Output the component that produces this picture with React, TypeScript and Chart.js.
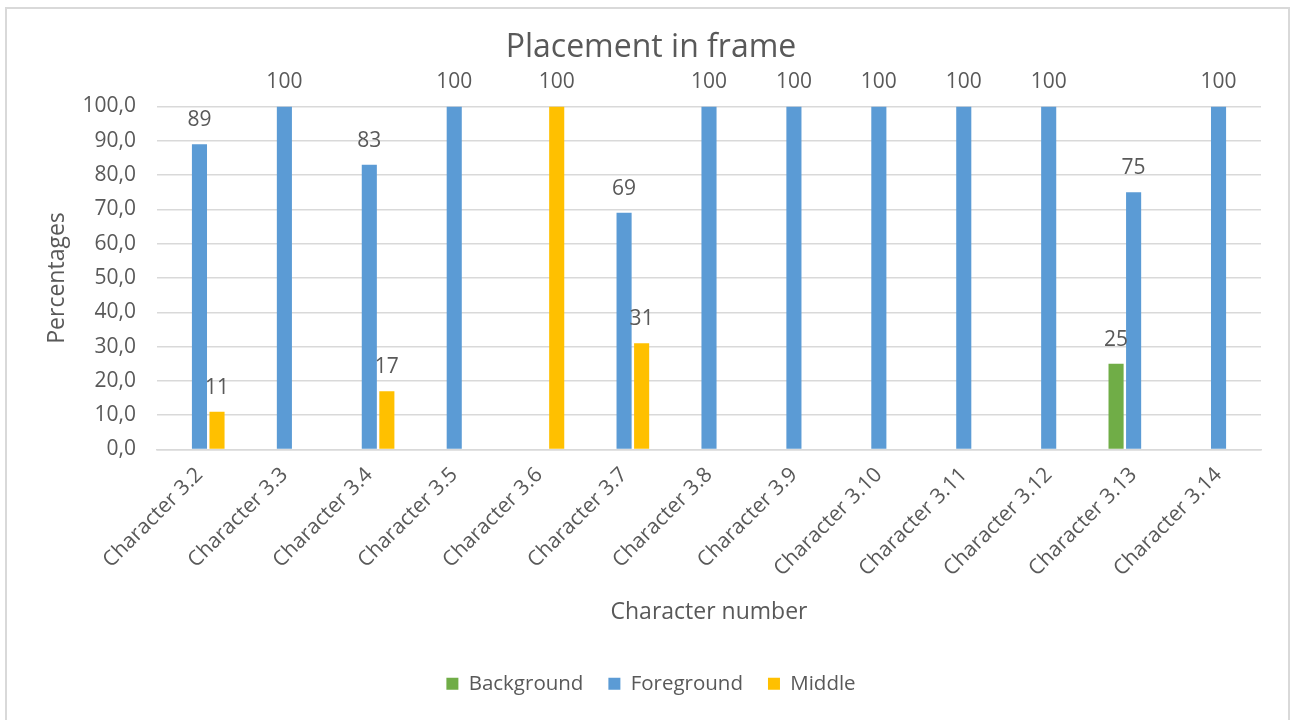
import React, { useEffect, useRef } from "react";
import { Chart, registerables } from "chart.js";

Chart.register(...registerables);

const categories = [
  "Character 3.2", "Character 3.3", "Character 3.4", "Character 3.5", "Character 3.6",
  "Character 3.7", "Character 3.8", "Character 3.9", "Character 3.10", "Character 3.11",
  "Character 3.12", "Character 3.13", "Character 3.14",
];
const background = [0, 0, 0, 0, 0, 0, 0, 0, 0, 0, 0, 25, 0];
const foreground = [89, 100, 83, 100, 0, 69, 100, 100, 100, 100, 100, 75, 100];
const middle = [11, 0, 17, 0, 100, 31, 0, 0, 0, 0, 0, 0, 0];

const TEXT = "#595959";
const FONT = "'Open Sans', sans-serif";

const dataLabels = {
  id: "dataLabels",
  afterDatasetsDraw(chart: any) {
    const ctx = chart.ctx;
    ctx.save();
    ctx.font = `21px ${FONT}`;
    ctx.fillStyle = TEXT;
    ctx.textAlign = "center";
    ctx.textBaseline = "middle";
    chart.data.datasets.forEach((ds: any, di: number) => {
      const meta = chart.getDatasetMeta(di);
      meta.data.forEach((el: any, i: number) => {
        const v = ds.data[i];
        if (!v) return;
        ctx.fillText(String(v), el.x, el.y - 24);
      });
    });
    ctx.restore();
  },
};

export default function App() {
  const ref = useRef<HTMLCanvasElement>(null);
  useEffect(() => {
    if (!ref.current) return;
    const chart = new Chart(ref.current, {
      type: "bar",
      data: {
        labels: categories,
        datasets: [
          { label: "Background", data: background, backgroundColor: "#70ad47" },
          { label: "Foreground", data: foreground, backgroundColor: "#5b9bd5" },
          { label: "Middle", data: middle, backgroundColor: "#ffc000" },
        ],
      },
      options: {
        responsive: false,
        animation: false,
        datasets: { bar: { categoryPercentage: 0.62, barPercentage: 0.86 } },
        layout: { padding: { left: 19, right: 9, top: 0, bottom: 16 } },
        plugins: {
          title: {
            display: true,
            text: "Placement in frame",
            color: TEXT,
            font: { family: FONT, size: 32, weight: "normal" },
            padding: { top: 29, bottom: 39 },
          },
          legend: {
            position: "bottom",
            labels: {
              color: TEXT,
              font: { family: FONT, size: 20.5 },
              boxWidth: 12,
              boxHeight: 12,
              padding: 25,
            },
          },
          tooltip: { enabled: false },
        },
        scales: {
          x: {
            grid: { display: false, drawTicks: false },
            border: { color: "#d9d9d9", width: 1.5 },
            ticks: {
              color: TEXT,
              font: { family: FONT, size: 21 },
              maxRotation: 45,
              minRotation: 45,
              padding: 13,
            },
            title: {
              display: true,
              text: "Character number",
              color: TEXT,
              font: { family: FONT, size: 23 },
              padding: { top: 0, bottom: 22 },
            },
            afterFit: (scale: any) => {
              scale.height = 199;
              scale.paddingLeft = 0;
              scale.paddingRight = 31;
            },
          },
          y: {
            min: 0,
            max: 100,
            grid: { color: "#d9d9d9", lineWidth: 1.5, drawTicks: false },
            border: { display: false },
            ticks: {
              stepSize: 10,
              color: TEXT,
              font: { family: FONT, size: 21 },
              padding: 21,
              callback: (v: any) => Number(v).toFixed(1).replace(".", ","),
            },
            title: {
              display: true,
              text: "Percentages",
              color: TEXT,
              font: { family: FONT, size: 23 },
              padding: { top: 25, bottom: 10 },
            },
            afterFit: (scale: any) => {
              scale.width = 138;
            },
          },
        },
      },
      plugins: [dataLabels],
    });
    return () => chart.destroy();
  }, []);

  return (
    <div style={{ position: "fixed", left: 0, top: 0, width: 1292, height: 720, background: "#fff", overflow: "hidden" }}>
      <div
        style={{
          position: "absolute",
          left: 5,
          top: 7,
          width: 1285,
          height: 730,
          border: "2px solid #d9d9d9",
          boxSizing: "border-box",
        }}
      />
      <canvas ref={ref} width={1292} height={720} style={{ position: "absolute", left: 0, top: 0 }} />
    </div>
  );
}
